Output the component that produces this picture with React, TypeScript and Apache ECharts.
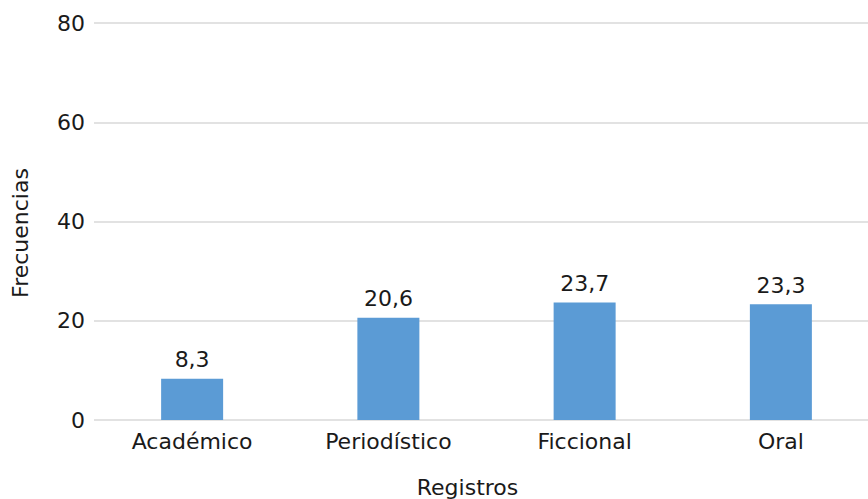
import React, { useEffect, useRef } from "react";
import * as echarts from "echarts";

const categories = ["Académico", "Periodístico", "Ficcional", "Oral"];
const frequencies = [8.3, 20.6, 23.7, 23.3];
const yTicks = { min: 0, max: 80, interval: 20 };
const xTitle = "Registros";
const yTitle = "Frecuencias";

const FONT = "DejaVu Sans";
const TEXT = "#1a1a1a";
const SIZE = 22;

export default function App() {
  const ref = useRef<HTMLDivElement>(null);

  useEffect(() => {
    if (!ref.current) return;
    const chart = echarts.init(ref.current, undefined, { renderer: "svg" });
    chart.setOption({
      animation: false,
      backgroundColor: "#ffffff",
      // the plot runs a little past the right edge of the visible frame
      grid: { left: 94, width: 785, top: 23, height: 397, containLabel: false },
      xAxis: {
        type: "category",
        data: categories,
        axisLine: { show: false },
        axisTick: { show: false },
        axisLabel: { color: TEXT, fontFamily: FONT, fontSize: SIZE, margin: 10 },
      },
      yAxis: {
        type: "value",
        min: yTicks.min,
        max: yTicks.max,
        interval: yTicks.interval,
        axisLine: { show: false },
        axisTick: { show: false },
        axisLabel: { color: TEXT, fontFamily: FONT, fontSize: SIZE, margin: 9 },
        splitLine: { lineStyle: { color: "#d9d9d9", width: 1.5 } },
      },
      series: [
        {
          type: "bar",
          data: frequencies,
          barWidth: 62,
          itemStyle: { color: "#5b9bd5" },
          label: {
            show: true,
            position: "top",
            distance: 8,
            color: TEXT,
            fontFamily: FONT,
            fontSize: SIZE,
            formatter: (p: any) => Number(p.value).toFixed(1).replace(".", ","),
          },
        },
      ],
      graphic: [
        {
          type: "text",
          x: 467.5,
          y: 487,
          style: {
            text: xTitle,
            fill: TEXT,
            font: `${SIZE}px "${FONT}"`,
            textAlign: "center",
            textVerticalAlign: "middle",
          },
        },
        {
          type: "text",
          x: 20,
          y: 233,
          rotation: Math.PI / 2,
          style: {
            text: yTitle,
            fill: TEXT,
            font: `${SIZE}px "${FONT}"`,
            textAlign: "center",
            textVerticalAlign: "middle",
          },
        },
      ],
    });
    return () => chart.dispose();
  }, []);

  return (
    <div
      style={{
        position: "fixed",
        left: 0,
        top: 0,
        width: 868,
        height: 499,
        overflow: "hidden",
        background: "#ffffff",
      }}
    >
      <div ref={ref} style={{ width: 880, height: 499 }} />
    </div>
  );
}
